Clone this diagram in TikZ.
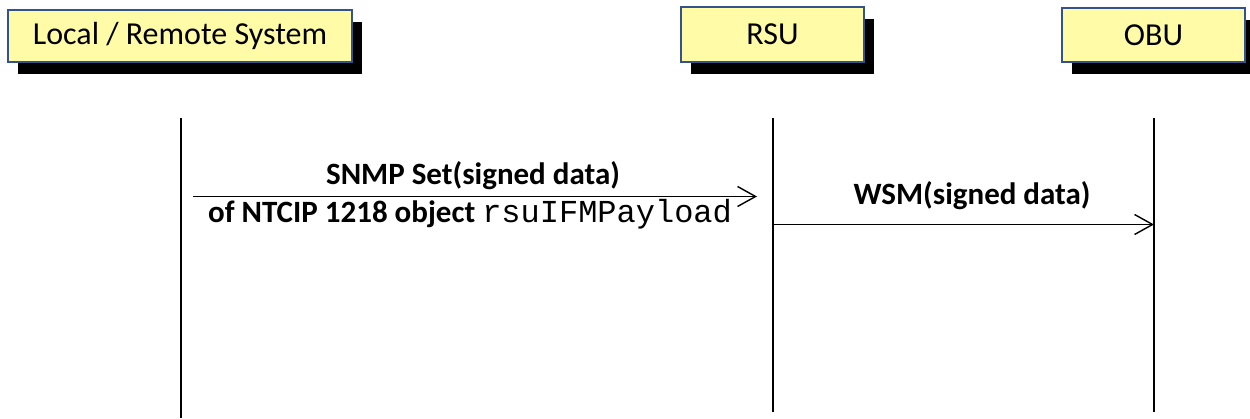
\documentclass[tikz,border=0pt]{standalone}
\usepackage{fontspec}
\setmainfont{Carlito}
\setmonofont{Liberation Mono}
\usetikzlibrary{arrows.meta,shadows}
\definecolor{boxfill}{RGB}{255,251,167}
\definecolor{boxline}{RGB}{52,82,140}
\tikzset{
  actor/.style={draw=boxline, line width=2pt, fill=boxfill, inner sep=0pt,
    font=\fontsize{32}{36}\selectfont,
    drop shadow={shadow xshift=10pt, shadow yshift=-12pt, fill=black, opacity=1}},
  lifeline/.style={line width=2pt, black},
  msg/.style={line width=1.4pt, black, -{Straight Barb[length=18pt,width=20pt,line width=1.4pt]}},
  lbl/.style={font=\fontsize{31}{36}\selectfont\bfseries, inner sep=0pt, anchor=base}
}
\begin{document}
\begin{tikzpicture}[x=1pt,y=-1pt]
\useasboundingbox (0,0) rectangle (1250,418);
\node[actor, minimum width=344pt, minimum height=52pt] (lrs) at (180,36) {Local / Remote System};
\node[actor, minimum width=183pt, minimum height=55pt] (rsu) at (772.5,34.5) {RSU};
\node[actor, minimum width=183pt, minimum height=54pt] (obu) at (1153.5,35) {OBU};
\coordinate (l1t) at (181,118);
\coordinate (l1b) at (181,418);
\coordinate (l2t) at (772.5,118);
\coordinate (l2b) at (772.5,412);
\coordinate (l3t) at (1154,118);
\coordinate (l3b) at (1154,412);
\draw[lifeline] (l1t) -- (l1b);
\draw[lifeline] (l2t) -- (l2b);
\draw[lifeline] (l3t) -- (l3b);
\coordinate (m1s) at (193,196.5);
\coordinate (m1e) at (757,196.5);
\coordinate (m2s) at (772.5,224.5);
\coordinate (m2e) at (1154,224.5);
\draw[msg] (m1s) -- (m1e);
\draw[msg] (m2s) -- (m2e);
\node[lbl] (t1) at (473,184) {SNMP Set(signed data)};
\node[lbl] (t2) at (470,222) {of NTCIP 1218 object {\mdseries\fontsize{32}{36}\selectfont\ttfamily rsuIFMPayload}};
\node[lbl] (t3) at (972,204) {WSM(signed data)};
\end{tikzpicture}
\end{document}
